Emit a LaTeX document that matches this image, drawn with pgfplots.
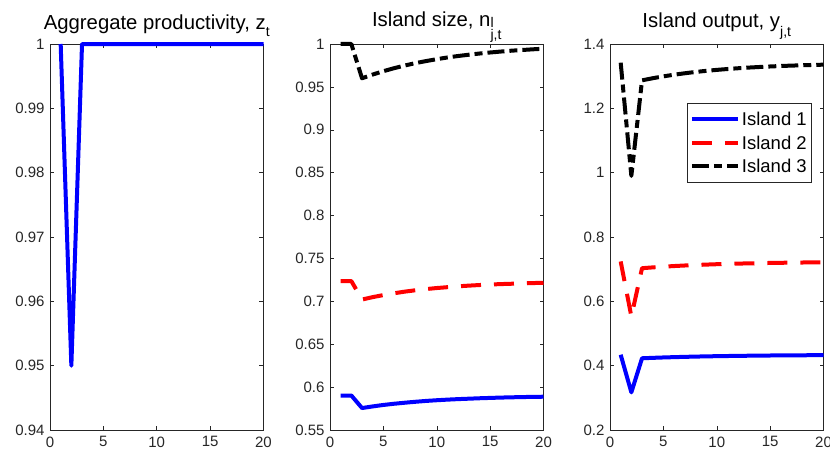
\documentclass[border=0pt]{standalone}
\usepackage{fontspec}
\setmainfont{Liberation Sans}
\usepackage{pgfplots}
\pgfplotsset{compat=1.18}
\definecolor{axgray}{HTML}{262626}

\pgfplotsset{
  panel/.style={
    scale only axis, width=213.5pt, height=386pt,
    xmin=0, xmax=20, xtick={0,5,10,15,20},
    axis line style={axgray, line width=0.5pt},
    every tick/.style={axgray, line width=0.5pt},
    major tick length=4pt,
    tick align=inside,
    tick label style={font=\fontsize{15}{18}\selectfont, text=axgray},
    xticklabel style={yshift=-3pt},
    yticklabel style={xshift=-2pt},
    /pgf/number format/assume math mode=true,
    /pgf/number format/fixed,
    /pgf/number format/precision=2,
    scaled y ticks=false,
    title style={font=\fontsize{20.3}{24}\selectfont, at={(0.5,1)}, anchor=base, yshift=9pt},
    clip=false,
    every axis plot/.append style={line width=4pt, line join=round},
    legend image code/.code={\draw[#1] (0pt,0pt) -- (46pt,0pt);},
  },
  s1/.style={blue},
  s2/.style={red, dash pattern=on 20pt off 13pt},
  s3/.style={black, dash pattern=on 17pt off 5pt on 8pt off 5pt},
}
\newcommand{\sub}[1]{\raisebox{-7.5pt}{\fontsize{14}{15}\selectfont #1}}

\begin{document}
\begin{tikzpicture}
\useasboundingbox (0,0) rectangle (830pt,453pt);

% Panel 1
\begin{axis}[panel, at={(50pt,23pt)}, anchor=south west,
  ymin=0.94, ymax=1, ytick={0.94,0.95,0.96,0.97,0.98,0.99,1},
  title={Aggregate productivity, z\sub{t}}]
\addplot[s1] coordinates {(1,1) (2,0.95) (3,1) (4,1) (5,1) (6,1) (7,1) (8,1) (9,1) (10,1)
  (11,1) (12,1) (13,1) (14,1) (15,1) (16,1) (17,1) (18,1) (19,1) (20,1)};
\end{axis}

% Panel 2
\begin{axis}[panel, at={(330pt,23pt)}, anchor=south west,
  ymin=0.55, ymax=1, ytick={0.55,0.6,0.65,0.7,0.75,0.8,0.85,0.9,0.95,1},
  title style={yshift=2pt},
  title={Island size, n\rlap{\raisebox{-0.5pt}{\fontsize{14}{15}\selectfont l}}\raisebox{-13pt}{\fontsize{14}{15}\selectfont j,t}}]
\addplot[s1] coordinates {(1,0.5902) (2,0.5902) (3,0.5756) (4,0.5775) (5,0.5792) (6,0.5806) (7,0.5818)
  (8,0.5829) (9,0.5839) (10,0.5847) (11,0.5854) (12,0.5860) (13,0.5865) (14,0.5870) (15,0.5874)
  (16,0.5878) (17,0.5881) (18,0.5884) (19,0.5886) (20,0.5888)};
\addplot[s2] coordinates {(1,0.7236) (2,0.7236) (3,0.7021) (4,0.7049) (5,0.7073) (6,0.7094) (7,0.7113)
  (8,0.7129) (9,0.7143) (10,0.7155) (11,0.7165) (12,0.7175) (13,0.7183) (14,0.7190) (15,0.7196)
  (16,0.7201) (17,0.7205) (18,0.7209) (19,0.7213) (20,0.7216)};
\addplot[s3] coordinates {(1,1) (2,1) (3,0.9600) (4,0.9644) (5,0.9683) (6,0.9718) (7,0.9749)
  (8,0.9777) (9,0.9801) (10,0.9823) (11,0.9843) (12,0.9860) (13,0.9875) (14,0.9889) (15,0.9901)
  (16,0.9912) (17,0.9922) (18,0.9930) (19,0.9938) (20,0.9945)};
\end{axis}

% Panel 3
\begin{axis}[panel, at={(610pt,23pt)}, anchor=south west,
  ymin=0.2, ymax=1.4, ytick={0.2,0.4,0.6,0.8,1,1.2,1.4},
  title style={yshift=1pt},
  title={Island output, y\raisebox{-9pt}{\fontsize{14}{15}\selectfont j,t}},
  legend style={at={(axis description cs:0.946,0.847)}, anchor=north east,
    draw=axgray, line width=0.5pt, font=\fontsize{18.5}{20}\selectfont,
    inner xsep=3pt, inner ysep=4pt, row sep=0pt,
    nodes={text height=13.5pt, text depth=0pt, inner ysep=5pt}},
  legend cell align=left]
\addplot[s1] coordinates {(1,0.434) (2,0.317) (3,0.4230) (4,0.4243) (5,0.4255) (6,0.4265) (7,0.4274)
  (8,0.4282) (9,0.4289) (10,0.4295) (11,0.4300) (12,0.4305) (13,0.4309) (14,0.4312) (15,0.4316)
  (16,0.4319) (17,0.4321) (18,0.4323) (19,0.4325) (20,0.4327)};
\addplot[s2] coordinates {(1,0.724) (2,0.553) (3,0.7030) (4,0.7055) (5,0.7077) (6,0.7097) (7,0.7114)
  (8,0.7129) (9,0.7142) (10,0.7154) (11,0.7164) (12,0.7173) (13,0.7180) (14,0.7187) (15,0.7193)
  (16,0.7198) (17,0.7203) (18,0.7207) (19,0.7210) (20,0.7213)};
\addplot[s3] coordinates {(1,1.342) (2,0.99) (3,1.2870) (4,1.2936) (5,1.2994) (6,1.3045) (7,1.3090)
  (8,1.3130) (9,1.3165) (10,1.3195) (11,1.3222) (12,1.3246) (13,1.3267) (14,1.3285) (15,1.3301)
  (16,1.3316) (17,1.3328) (18,1.3339) (19,1.3349) (20,1.3357)};
\legend{Island 1, Island 2, Island 3}
\end{axis}
\end{tikzpicture}
\end{document}
